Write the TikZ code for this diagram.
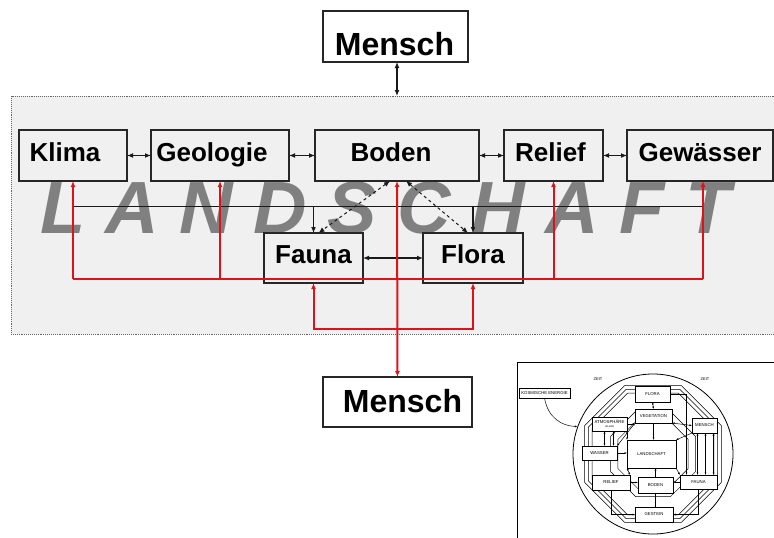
\documentclass[tikz,border=0pt]{standalone}
\usepackage{fontspec}
\setmainfont{Liberation Sans}
\usetikzlibrary{arrows.meta}
\definecolor{redline}{RGB}{220,20,25}
\definecolor{framefill}{RGB}{240,240,240}
\definecolor{titlegray}{RGB}{128,128,128}
\newcommand{\bxt}[3]{\raisebox{#2}{\hspace*{#1}#3\hspace*{-#1}}}
\begin{document}
\begin{tikzpicture}[x=1pt,y=-1pt,
  >={Latex[length=6pt,width=5pt]},
  box/.style={draw=black!85, line width=1.3pt, inner sep=0pt, outer sep=0pt,
    minimum height=51pt, font=\fontsize{26}{30}\selectfont\bfseries,
    text height=19pt, text depth=0pt},
  mbox/.style={box, fill=white, font=\fontsize{32}{36}\selectfont\bfseries, text height=23pt},
  frame/.style={draw=black!60, densely dotted, line width=0.9pt, fill=framefill,
    inner sep=0pt, outer sep=0pt},
  blk/.style={line width=1.4pt, black!90},
  rd/.style={line width=2pt, redline},
  ibox/.style={draw, line width=0.6pt, fill=white, inner sep=0pt, outer sep=0pt,
    font=\fontsize{4.3}{5}\selectfont},
  iline/.style={line width=0.5pt, >={Latex[length=2.5pt,width=2pt]}}
]
\useasboundingbox (0,0) rectangle (774,538);
\clip (0,0) rectangle (774,538);
\fill[white] (0,0) rectangle (774,538);

% frame
\node[frame, minimum width=769pt, minimum height=238pt] (frame) at (395.5,215) {};

% title
\node[anchor=base west, text=titlegray, inner sep=0pt,
  font=\fontsize{74}{80}\selectfont\bfseries\itshape] (title) at (40,233) {L A N D S C H A F T};

% boxes
\node[box, minimum width=108pt] (klima) at (73,155.5) {\bxt{-8pt}{4pt}{Klima}};
\node[box, minimum width=138pt] (geologie) at (220,155.5) {\bxt{-8pt}{4pt}{Geologie}};
\node[box, minimum width=164pt] (boden) at (397,155.5) {\bxt{-6pt}{4pt}{Boden}};
\node[box, minimum width=99pt] (relief) at (553.5,155.5) {\bxt{-3pt}{4pt}{Relief}};
\node[box, minimum width=146pt] (gewaesser) at (700,155.5) {\bxt{0pt}{4pt}{Gewässer}};
\node[box, minimum width=99pt, minimum height=50pt] (fauna) at (313.5,258) {\bxt{0pt}{4pt}{Fauna}};
\node[box, minimum width=100pt, minimum height=50pt] (flora) at (473,258) {\bxt{0pt}{4pt}{Flora}};
\node[mbox, minimum width=145pt] (mensch1) at (395.5,36.5) {\bxt{-1pt}{-7pt}{Mensch}};
\node[mbox, minimum width=149pt, minimum height=50pt] (mensch2) at (397.5,402) {\bxt{5pt}{1.5pt}{Mensch}};

% black connectors
\draw[blk,<->] (mensch1.south -| boden.north) -- (frame.north -| boden.north);
\draw[blk,<->] (klima.east) -- (geologie.west);
\draw[blk,<->] (geologie.east) -- (boden.west);
\draw[blk,<->] (boden.east) -- (relief.west);
\draw[blk,<->] (relief.east) -- (gewaesser.west);
\draw[blk,<->] (fauna.east) -- (flora.west);
\coordinate (bhl) at (73,206.5);
\coordinate (bhr) at (703,206.5);
\draw[blk] (bhl) -- (bhr);
\draw[blk,->] (bhl -| fauna.north) -- (fauna.north);
\draw[blk,->] (bhl -| flora.north) -- (flora.north);
\draw[blk, dashed, line width=1pt, <->] ([xshift=-7pt]boden.south) -- ([xshift=5pt]fauna.north);
\draw[blk, dashed, line width=1pt, <->] ([xshift=9pt]boden.south) -- ([xshift=-5pt]flora.north);

% red connectors
\coordinate (rhl) at (73,279);
\coordinate (rhr) at (703,279);
\coordinate (lp) at (397,329);
\draw[rd] (rhl) -- (rhr);
\draw[rd,->] (rhl) -- (klima.south);
\draw[rd,->] (rhl -| geologie.south) -- (geologie.south);
\draw[rd,->] (rhl -| relief.south) -- (relief.south);
\draw[rd,->] (rhr) -- (rhr |- gewaesser.south);
\draw[rd,<->] (boden.south) -- (mensch2.north);
\draw[rd,<->] (fauna.south) -- (fauna.south |- lp) -| (flora.south);

% inset picture
\node[draw, line width=0.8pt, fill=white, minimum width=270pt, minimum height=185pt,
  anchor=north west, inner sep=0pt] (inset) at (517,362) {};
\node[draw, line width=0.8pt, circle, minimum size=160pt, inner sep=0pt] (circ) at (653,454) {};
\draw[iline] plot[samples=9, domain=22.5:382.5] ({653+74*cos(\x)},{454+74*sin(\x)});
\draw[iline] plot[samples=9, domain=22.5:382.5] ({653+70*cos(\x)},{454+70*sin(\x)});
\draw[iline] plot[samples=9, domain=22.5:382.5] ({653+66*cos(\x)},{454+66*sin(\x)});
\draw[iline] plot[samples=9, domain=22.5:382.5] ({653+46*cos(\x)},{454+46*sin(\x)});
\draw[iline] plot[samples=9, domain=22.5:382.5] ({653+38*cos(\x)},{454+38*sin(\x)});
\node[font=\fontsize{4}{5}\selectfont] (zeit1) at (598,379) {ZEIT};
\node[font=\fontsize{4}{5}\selectfont] (zeit2) at (705,379) {ZEIT};
\node[ibox, minimum width=51pt, minimum height=10pt] (kos) at (544.5,393) {KOSMISCHE ENERGIE};
\node[ibox, minimum width=35pt, minimum height=16pt] (flora2) at (652.5,394) {FLORA};
\node[ibox, minimum width=37pt, minimum height=14pt] (veg) at (653.5,416) {VEGETATION};
\node[ibox, minimum width=35pt, minimum height=14pt, align=center] (atmo) at (609.5,424) {ATMOSPHÄRE\\[-1.5pt]{\fontsize{2.5}{3}\selectfont (KLIMA)}};
\node[ibox, minimum width=25pt, minimum height=15pt] (mensch3) at (704.5,425.5) {MENSCH};
\node[ibox, minimum width=35pt, minimum height=14pt] (wasser) at (599.5,453) {WASSER};
\node[ibox, minimum width=49pt, minimum height=28pt, line width=0.9pt] (land) at (651.5,454) {LANDSCHAFT};
\node[ibox, minimum width=38pt, minimum height=15pt] (relief2) at (611,482.5) {RELIEF};
\node[ibox, minimum width=35pt, minimum height=16pt] (boden2) at (655.5,485) {BODEN};
\node[ibox, minimum width=37pt, minimum height=14pt] (fauna2) at (698.5,482) {FAUNA};
\node[ibox, minimum width=38pt, minimum height=15pt] (gestein) at (654,514.5) {GESTEIN};

\draw[iline,->] (kos.south) .. controls (548,418) and (562,426) .. (circ.160);
\draw[iline,<->] (flora2.south) -- (veg.north);
\draw[iline,->] (veg.south) -- (veg.south |- land.north);
\draw[iline,->] (boden2.north) -- (boden2.north |- land.south);
\draw[iline,->] (wasser.east) -- (land.west |- wasser.east);
\draw[iline,<->] ([xshift=-5pt]atmo.south) -- ([xshift=-5pt]atmo.south |- wasser.north);
\draw[iline,<->] ([xshift=4pt]atmo.south) -- ([xshift=4pt]atmo.south |- wasser.north);
\draw[iline,->] (atmo.east) -- (veg.west |- atmo.east);
\draw[iline,<->] ([xshift=-7pt]mensch3.south) -- ([xshift=-7pt]mensch3.south |- fauna2.north);
\draw[iline,<->] ([xshift=1pt]mensch3.south) -- ([xshift=1pt]mensch3.south |- fauna2.north);
\draw[iline,<->] ([xshift=9pt]mensch3.south) -- ([xshift=9pt]mensch3.south |- fauna2.north);
\draw[iline,<->] (veg.south west) -- (wasser.north east);
\draw[iline,<->] (veg.south east) -- (mensch3.west);
\draw[iline,->] (mensch3.south west) -- (land.north east);
\draw[iline,->] (land.south east) -- (fauna2.north west);
\draw[iline,<->] (relief2.north east) -- (land.south west);
\draw[iline,<->] (atmo.south east) -- (land.north west);
\draw[iline,->] (relief2.east) -- (boden2.west |- relief2.east);
\draw[iline,->] (fauna2.west) -- (boden2.east |- fauna2.west);
\draw[iline] (boden2.south) -- (boden2.south |- gestein.north);
\draw[iline,->] (flora2.east) -| ([xshift=-12pt]fauna2.north);
\draw[iline,->] (relief2.south) |- (gestein.west);
\draw[iline,->] (fauna2.south) |- (gestein.east);
\end{tikzpicture}
\end{document}
